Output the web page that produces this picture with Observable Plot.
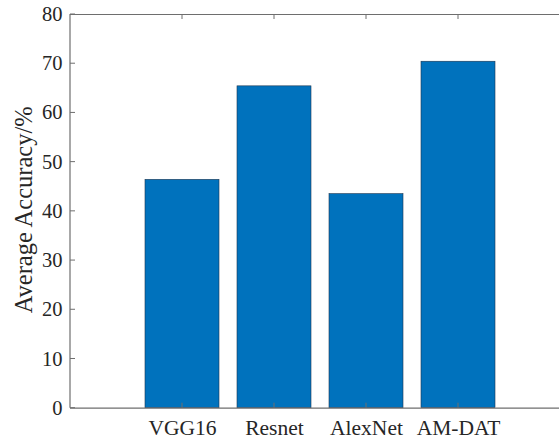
<!DOCTYPE html>
<html>
<head>
<meta charset="utf-8">
<script src="https://cdn.jsdelivr.net/npm/d3@7"></script>
<script src="https://cdn.jsdelivr.net/npm/@observablehq/plot@0.6"></script>
<style>
  html, body { margin: 0; padding: 0; background: #fff; }
  #chart svg { display: block; }
</style>
</head>
<body>
<div id="chart"></div>
<script>
const models = ["VGG16", "Resnet", "AlexNet", "AM-DAT"];
const accuracy = [46.4, 65.4, 43.5, 70.4];
const yTicks = [0, 10, 20, 30, 40, 50, 60, 70, 80];
const yLabel = "Average Accuracy/%";

const data = models.map((m, i) => ({model: m, acc: accuracy[i]}));

const W = 559, H = 441;
const mL = 70, mT = 14, mB = 33.3, mR = 0;
const axisColor = "#6e6e6e";
const textColor = "#262626";
const font = "'Liberation Serif', 'Times New Roman', serif";

const chart = Plot.plot({
  width: W,
  height: H,
  marginLeft: mL,
  marginRight: mR,
  marginTop: mT,
  marginBottom: mB,
  style: {fontFamily: font, fontSize: "20px", color: textColor, background: "#fff"},
  x: {type: "band", domain: models, range: [134.2, 504.6], paddingInner: 0.2, paddingOuter: 0.1, align: 0.5},
  y: {domain: [0, 80], label: null},
  marks: [
    Plot.barY(data, {x: "model", y: "acc", fill: "#0072BD", stroke: "#1c3550", strokeWidth: 0.6}),
    Plot.ruleY([0, 80], {stroke: axisColor, strokeWidth: 1.2}),
    Plot.axisY({ticks: yTicks, tickSize: 0, tickPadding: 8, label: null, fontSize: 20.5, fill: textColor}),
    Plot.axisX({tickSize: 0, tickPadding: 11.5, label: null, fontSize: 21.5, fill: textColor})
  ]
});

// box/ticks drawn from the chart's own scales
const xs = chart.scale("x");
const ys = chart.scale("y");
const svg = d3.select(chart);
const g = svg.append("g").attr("stroke", axisColor).attr("stroke-width", 1);
const y0 = ys.apply(0), yTop = ys.apply(80);
g.append("line").attr("x1", mL).attr("x2", mL).attr("y1", y0).attr("y2", yTop).attr("stroke-width", 1.2);
const tl = 5;
for (const t of yTicks) {
  const yy = ys.apply(t);
  g.append("line").attr("x1", mL).attr("x2", mL + tl).attr("y1", yy).attr("y2", yy);
}
for (const m of models) {
  const xx = xs.apply(m) + xs.bandwidth / 2;
  g.append("line").attr("x1", xx).attr("x2", xx).attr("y1", y0).attr("y2", y0 - tl);
  g.append("line").attr("x1", xx).attr("x2", xx).attr("y1", yTop).attr("y2", yTop + tl);
}
svg.append("text")
  .attr("transform", `translate(23,${(y0 + yTop) / 2 - 1}) rotate(-90)`)
  .attr("text-anchor", "middle")
  .attr("dominant-baseline", "central")
  .attr("font-family", font)
  .attr("font-size", 24.5)
  .attr("fill", textColor)
  .text(yLabel);

document.getElementById("chart").append(chart);
</script>
</body>
</html>
